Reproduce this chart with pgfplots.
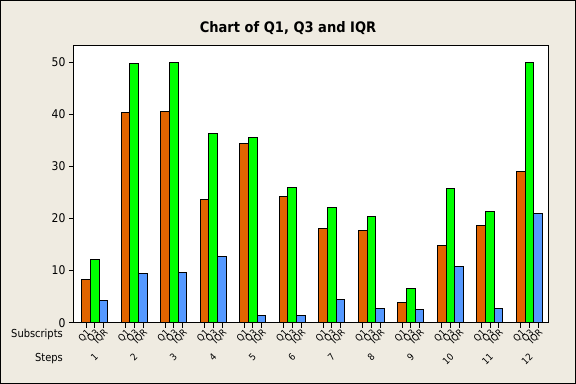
\documentclass[border=0pt]{standalone}
\usepackage{pgfplots}
\pgfplotsset{compat=1.18}
\usepackage{fontspec}
\setmainfont{DejaVu Sans Condensed}
\definecolor{bgcol}{RGB}{239,235,225}
\definecolor{q1col}{RGB}{225,100,0}
\definecolor{q3col}{RGB}{0,255,0}
\definecolor{iqrcol}{RGB}{85,153,255}
\begin{document}
\begin{tikzpicture}
\fill[bgcol] (-74bp,-61.3bp) rectangle (502bp,322.7bp);
\begin{axis}[
  at={(0,0)}, anchor=south west,
  width=474bp, height=276.7bp, scale only axis,
  xmin=0.475, xmax=12.47, ymin=0, ymax=53.13,
  axis background/.style={fill=white},
  axis line style={line width=1bp},
  /pgf/number format/assume math mode=true,
  ybar, bar width=0.22,
  ytick={0,10,20,30,40,50},
  ytick pos=left, xtick pos=bottom,
  tick align=outside,
  major tick length=5bp,
  tick style={black, line width=0.8bp},
  yticklabel style={font=\fontsize{12bp}{13bp}\selectfont},
  xtick={0.78,1,1.22,1.78,2,2.22,2.78,3,3.22,3.78,4,4.22,4.78,5,5.22,5.78,6,6.22,6.78,7,7.22,7.78,8,8.22,8.78,9,9.22,9.78,10,10.22,10.78,11,11.22,11.78,12,12.22},
  xticklabels={Q1,Q3,IQR,Q1,Q3,IQR,Q1,Q3,IQR,Q1,Q3,IQR,Q1,Q3,IQR,Q1,Q3,IQR,Q1,Q3,IQR,Q1,Q3,IQR,Q1,Q3,IQR,Q1,Q3,IQR,Q1,Q3,IQR,Q1,Q3,IQR},
  xticklabel style={rotate=45, anchor=north east, inner sep=0.5bp, font=\fontsize{9.5bp}{10bp}\selectfont},
  extra x ticks={1,2,3,4,5,6,7,8,9,10,11,12},
  extra x tick labels={1,2,3,4,5,6,7,8,9,10,11,12},
  extra x tick style={major tick length=0pt, tick label style={yshift=-29bp, xshift=-1bp, font=\fontsize{10bp}{11bp}\selectfont}},
]
\addplot[fill=q1col, draw=black, line width=1bp, bar shift=-0.22] coordinates {
(1,8.2) (2,40.3) (3,40.5) (4,23.7) (5,34.4) (6,24.3) (7,18.0) (8,17.7) (9,3.8) (10,14.9) (11,18.6) (12,29.1)};
\addplot[fill=q3col, draw=black, line width=1bp, bar shift=0] coordinates {
(1,12.2) (2,49.7) (3,50.0) (4,36.4) (5,35.6) (6,25.9) (7,22.2) (8,20.4) (9,6.5) (10,25.7) (11,21.3) (12,50.0)};
\addplot[fill=iqrcol, draw=black, line width=1bp, bar shift=0.22] coordinates {
(1,4.35) (2,9.5) (3,9.7) (4,12.7) (5,1.4) (6,1.4) (7,4.5) (8,2.8) (9,2.6) (10,10.8) (11,2.8) (12,20.9)};
\end{axis}
\node[anchor=center, font=\bfseries\fontsize{14.5bp}{16bp}\selectfont] at (214bp,295bp) {Chart of Q1, Q3 and IQR};
\node[anchor=east, inner sep=0pt, font=\fontsize{11bp}{13bp}\selectfont] at (-11bp,-11.3bp) {Subscripts};
\node[anchor=east, inner sep=0pt, font=\fontsize{11bp}{13bp}\selectfont] at (-11bp,-36.3bp) {Steps};
\draw[line width=1bp] (-73.5bp,-60.8bp) rectangle (501.5bp,322.2bp);
\pgfresetboundingbox
\path (-74bp,-61.3bp) rectangle (502bp,322.7bp);
\end{tikzpicture}
\end{document}
